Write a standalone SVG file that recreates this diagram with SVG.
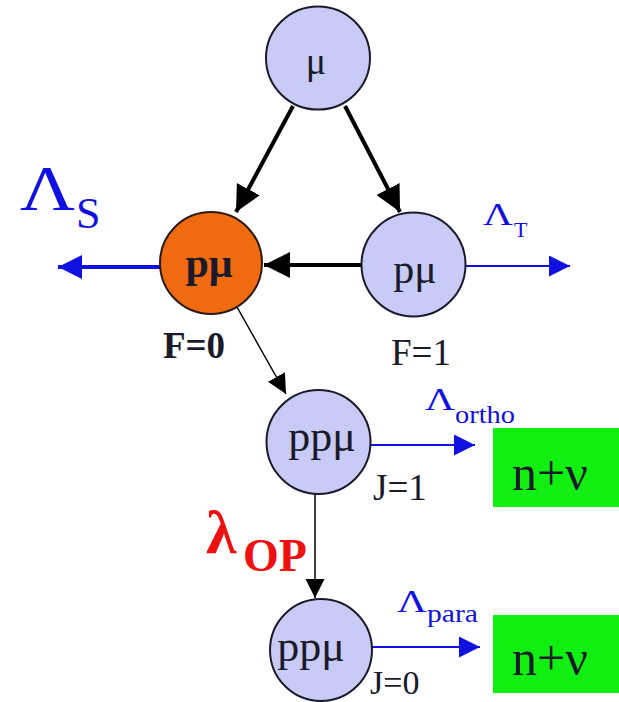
<svg xmlns="http://www.w3.org/2000/svg" width="619" height="702" viewBox="0 0 619 702">
<defs>
<style>
.node{fill:#c8cbf6;stroke:#1a1a2a;stroke-width:2}
.hot{fill:#f06a10;stroke:#2a1a10;stroke-width:2}
.box{fill:#11ee11}
.t{font-family:"Liberation Serif","Times New Roman",serif;fill:#1a1a2a}
.b{font-weight:bold}
.blue{font-family:"Liberation Serif","Times New Roman",serif;fill:#1010e0}
.red{font-family:"Liberation Serif","Times New Roman",serif;fill:#ee1111;font-weight:bold}
.k4{stroke:#000;stroke-width:4;fill:none}
.k1{stroke:#000;stroke-width:1.5;fill:none}
.bl4{stroke:#1010e0;stroke-width:4;fill:none}
.bl2{stroke:#1010e0;stroke-width:2;fill:none}
</style>
<marker id="ak" viewBox="0 0 10 10" refX="10" refY="5" markerWidth="6.5" markerHeight="7.5" markerUnits="strokeWidth" orient="auto"><path d="M0,0 L10,5 L0,10 Z" fill="#000"/></marker>
<marker id="ak1" viewBox="0 0 10 10" refX="10" refY="5" markerWidth="13" markerHeight="13" markerUnits="strokeWidth" orient="auto"><path d="M0,0 L10,5 L0,10 Z" fill="#000"/></marker>
<marker id="ab4" viewBox="0 0 10 10" refX="10" refY="5" markerWidth="6.5" markerHeight="6" markerUnits="strokeWidth" orient="auto"><path d="M0,0 L10,5 L0,10 Z" fill="#1010e0"/></marker>
<marker id="ab2" viewBox="0 0 10 10" refX="10" refY="5" markerWidth="11" markerHeight="10.5" markerUnits="strokeWidth" orient="auto"><path d="M0,0 L10,5 L0,10 Z" fill="#1010e0"/></marker>
</defs>
<rect width="619" height="702" fill="#fff"/>
<g id="connectors">
<line class="k4" x1="293" y1="106" x2="236" y2="212" marker-end="url(#ak)"/>
<line class="k4" x1="345" y1="106" x2="400" y2="212" marker-end="url(#ak)"/>
<line class="k4" x1="362" y1="265" x2="264" y2="265" marker-end="url(#ak)"/>
<line class="k1" x1="237" y1="307" x2="286" y2="394" marker-end="url(#ak1)"/>
<line class="k1" x1="315" y1="494" x2="315" y2="598" marker-end="url(#ak1)"/>
<line class="bl4" x1="160" y1="267" x2="58" y2="267" marker-end="url(#ab4)"/>
<line class="bl2" x1="465" y1="266" x2="570" y2="266" marker-end="url(#ab2)"/>
<line class="bl2" x1="370" y1="445" x2="475" y2="445" marker-end="url(#ab2)"/>
<line class="bl2" x1="371" y1="647" x2="480" y2="647" marker-end="url(#ab2)"/>
</g>
<g id="mu">
<ellipse class="node" cx="318" cy="58" rx="52" ry="51.5"/>
<text class="t" x="316" y="74" font-size="38" text-anchor="middle">μ</text>
</g>
<g id="pmu-f0">
<circle class="hot" cx="211" cy="263" r="51"/>
<text class="t b" x="209" y="277" font-size="42" text-anchor="middle" fill="#1a0a00">pμ</text>
<text class="t b" x="194" y="358" font-size="37" text-anchor="middle">F=0</text>
</g>
<g id="pmu-f1">
<ellipse class="node" cx="413.5" cy="264.5" rx="52" ry="52"/>
<text class="t" x="415" y="283" font-size="42" text-anchor="middle">pμ</text>
<text class="t" x="421" y="365" font-size="37" text-anchor="middle">F=1</text>
</g>
<g id="ppmu-j1">
<circle class="node" cx="318.5" cy="442" r="52"/>
<text class="t" x="322" y="451" font-size="44" text-anchor="middle">ppμ</text>
<text class="t" x="373" y="500" font-size="37">J=1</text>
</g>
<g id="ppmu-j0">
<circle class="node" cx="321" cy="650" r="51"/>
<text class="t" x="311" y="661" font-size="44" text-anchor="middle">ppμ</text>
<text class="t" x="370" y="694" font-size="34">J=0</text>
</g>
<g id="nnu-1">
<rect class="box" x="493" y="428" width="126" height="79"/>
<text class="t" x="512" y="490" font-size="50">n+ν</text>
</g>
<g id="nnu-2">
<rect class="box" x="493" y="615" width="126" height="78"/>
<text class="t" x="512" y="675" font-size="50">n+ν</text>
</g>
<g id="labels">
<text class="blue" x="20" y="210" font-size="64" textLength="55" lengthAdjust="spacingAndGlyphs">Λ</text>
<text class="blue" x="76" y="228" font-size="44">S</text>
<text class="blue" x="483" y="225" font-size="32" textLength="30" lengthAdjust="spacingAndGlyphs">Λ</text>
<text class="blue" x="514" y="237" font-size="22">T</text>
<text class="blue" x="425" y="410" font-size="32" textLength="30" lengthAdjust="spacingAndGlyphs">Λ</text>
<text class="blue" x="455" y="423" font-size="26" textLength="60" lengthAdjust="spacingAndGlyphs">ortho</text>
<text class="blue" x="397" y="612" font-size="32" textLength="30" lengthAdjust="spacingAndGlyphs">Λ</text>
<text class="blue" x="427" y="622" font-size="26" textLength="51" lengthAdjust="spacingAndGlyphs">para</text>
<text class="red" x="206" y="553" font-size="62">λ</text>
<text class="red" x="243" y="571" font-size="46">OP</text>
</g>
</svg>
